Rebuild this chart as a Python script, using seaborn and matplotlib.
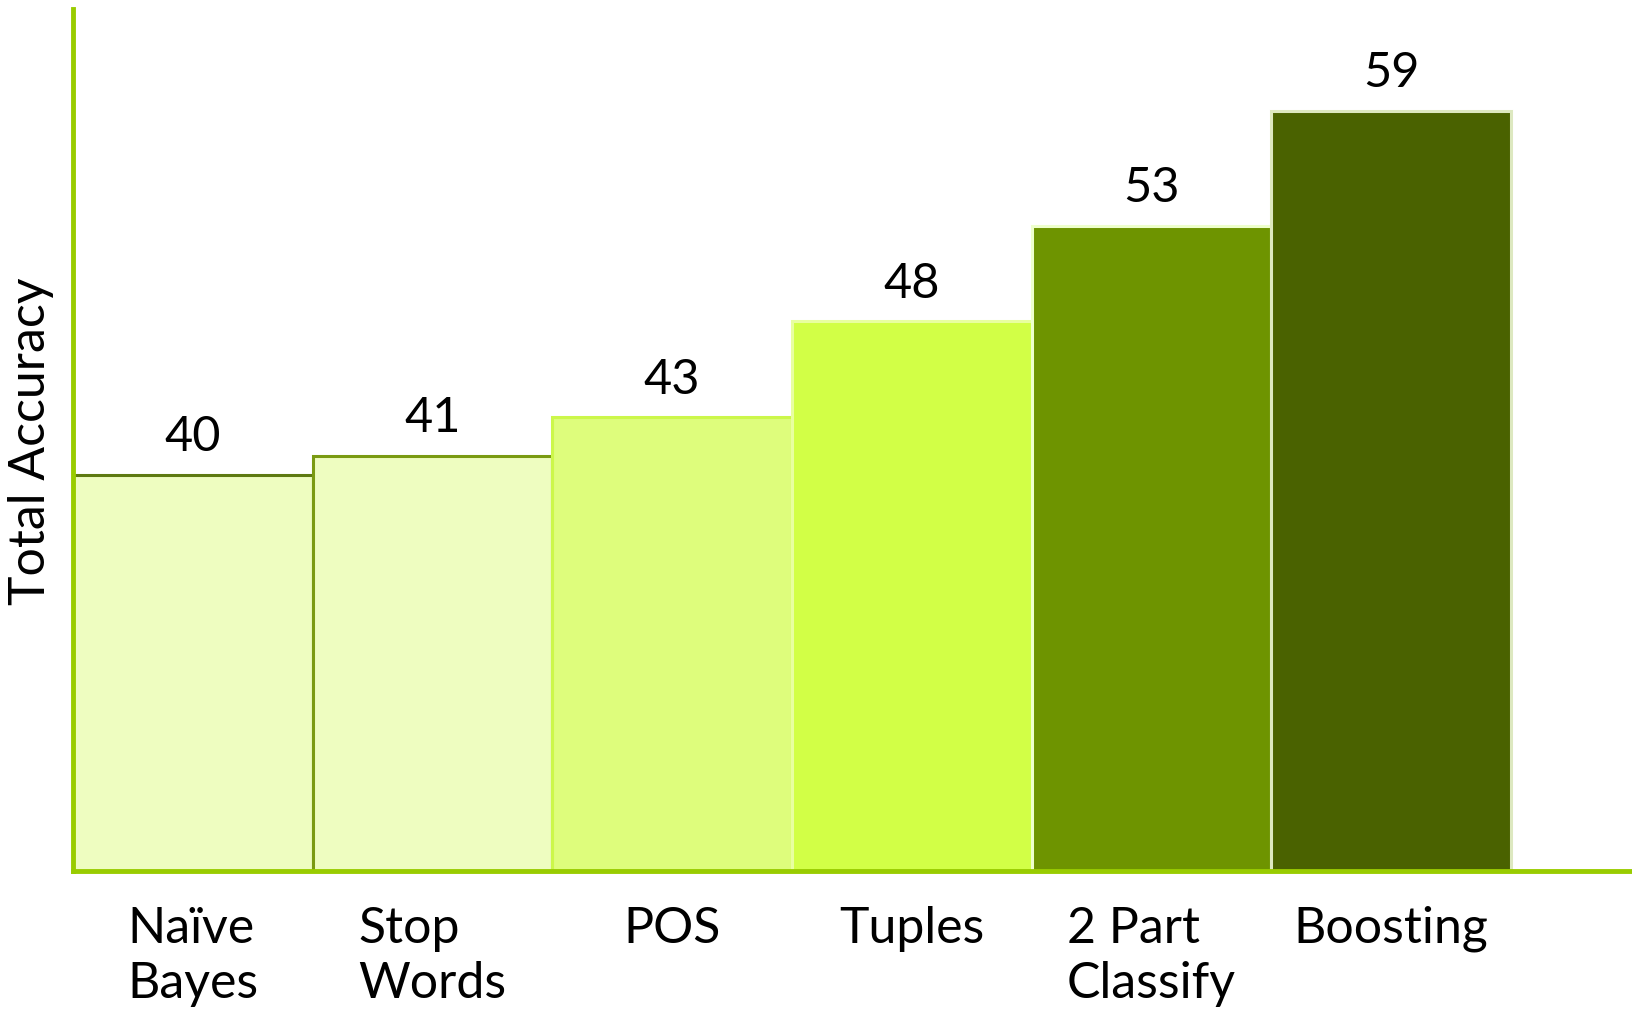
import matplotlib
matplotlib.use("Agg")
import matplotlib.pyplot as plt
import seaborn as sns

# values
methods = ["Naïve\nBayes", "Stop\nWords", "POS", "Tuples", "2 Part\nClassify", "Boosting"]
accuracy = [40, 41, 43, 48, 53, 59]

# bar fill and edge colours, light to dark green
bar_colors = ["#EEFDC0", "#EEFDC0", "#DEFD7C", "#D2FF46", "#6E9400", "#4A6200"]
edge_colors = ["#5E7A12", "#7A9A12", "#CCF74A", "#E8FFA0", "#EEFFCC", "#DDE8C0"]
axis_green = "#99CC00"

sns.set_style("white")
plt.rcParams["font.family"] = ["Lato", "DejaVu Sans"]

fig = plt.figure(figsize=(16.33, 10.12), dpi=100)
ax = fig.add_axes([0.0447, 0.138, 0.9553, 0.852])

sns.barplot(x=methods, y=accuracy, hue=methods, palette=bar_colors,
            legend=False, width=1.0, ax=ax, saturation=1)

for patch, ec in zip(ax.patches, edge_colors):
    patch.set_edgecolor(ec)
    patch.set_linewidth(2.2)

for container in ax.containers:
    ax.bar_label(container, fmt="%d", padding=12, fontsize=35, color="black")

ax.set_ylim(19.3, 64.3)
ax.set_xlim(-0.5, 6.01)

# only left and bottom axis lines in bright green
sns.despine(ax=ax, top=True, right=True)
for side in ["left", "bottom"]:
    ax.spines[side].set_color(axis_green)
    ax.spines[side].set_linewidth(3.5)
    ax.spines[side].set_zorder(5)

ax.set_yticks([])
ax.set_xlabel("")
ax.set_ylabel("Total Accuracy", fontsize=36, color="black")
ax.yaxis.set_label_coords(-0.012, 0.5)
ax.tick_params(axis="x", length=0, pad=24, labelsize=36, labelcolor="black")
for lbl in ax.get_xticklabels():
    lbl.set_multialignment("left")
    lbl.set_verticalalignment("top")
    lbl.set_linespacing(1.25)

fig.savefig("out.png", dpi=100)
